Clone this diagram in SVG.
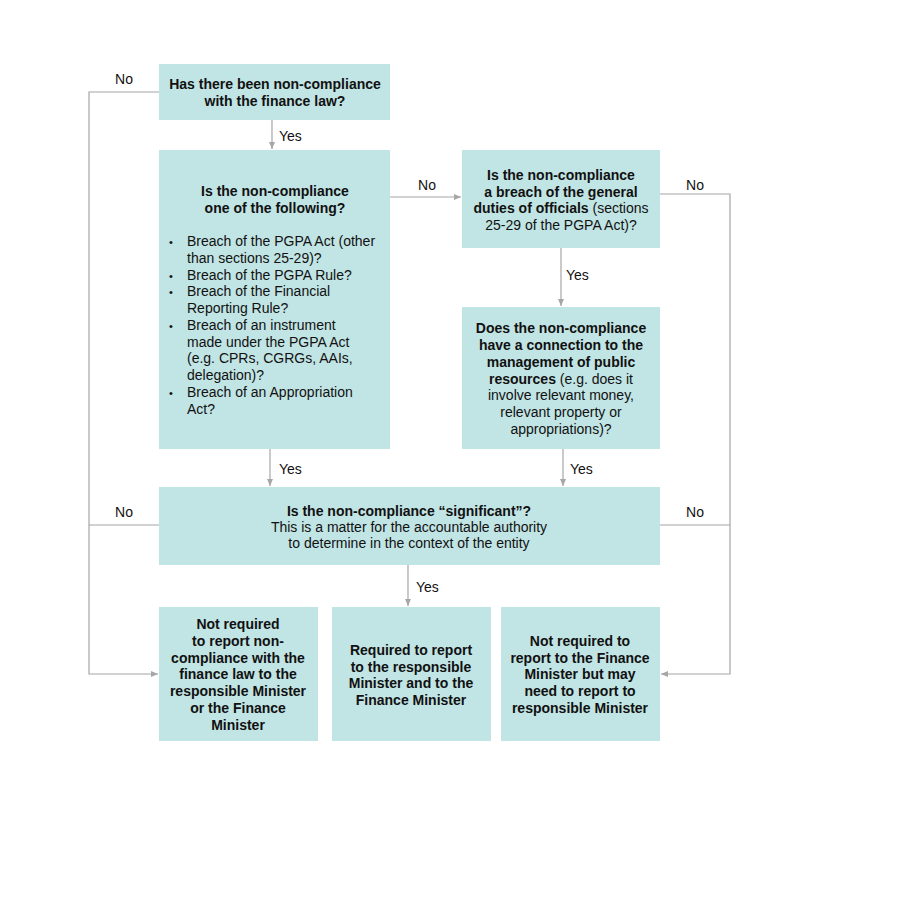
<svg xmlns="http://www.w3.org/2000/svg" width="900" height="899" viewBox="0 0 900 899">
<style>
.box{fill:#c1e4e4}
text{font-family:"Liberation Sans",Arial,sans-serif;font-size:14px;fill:#111}
.c{text-anchor:middle}
.b{font-weight:bold}
.ln{fill:none;stroke:#a6a6a6;stroke-width:1.2}
.bu{font-size:11px}
</style>
<defs>
<marker id="ar" markerWidth="8" markerHeight="8" refX="7" refY="4" orient="auto" markerUnits="userSpaceOnUse">
<path d="M0,1 L7,4 L0,7 Z" fill="#a6a6a6"/>
</marker>
</defs>
<rect width="900" height="899" fill="#fff"/>
<g id="connectors">
<polyline class="ln" points="159,92 89,92 89,674 158,674" marker-end="url(#ar)"/>
<line class="ln" x1="159" y1="525" x2="89" y2="525"/>
<line class="ln" x1="272" y1="120" x2="272" y2="149" marker-end="url(#ar)"/>
<line class="ln" x1="390" y1="197" x2="461" y2="197" marker-end="url(#ar)"/>
<polyline class="ln" points="660,194 730,194 730,674 661,674" marker-end="url(#ar)"/>
<line class="ln" x1="660" y1="525" x2="730" y2="525"/>
<line class="ln" x1="561" y1="248" x2="561" y2="306" marker-end="url(#ar)"/>
<line class="ln" x1="270" y1="449" x2="270" y2="486" marker-end="url(#ar)"/>
<line class="ln" x1="563" y1="449" x2="563" y2="486" marker-end="url(#ar)"/>
<line class="ln" x1="408" y1="565" x2="408" y2="606" marker-end="url(#ar)"/>
<text x="124" y="84" class="c">No</text>
<text x="124" y="517" class="c">No</text>
<text x="279" y="141">Yes</text>
<text x="427" y="190" class="c">No</text>
<text x="695" y="190" class="c">No</text>
<text x="695" y="517" class="c">No</text>
<text x="566" y="280">Yes</text>
<text x="279" y="474">Yes</text>
<text x="570" y="474">Yes</text>
<text x="416" y="592">Yes</text>
</g>
<g id="n1">
<rect class="box" x="159" y="64" width="231" height="56"/>
<text class="c b" x="275" y="89">Has there been non-compliance</text>
<text class="c b" x="275" y="106">with the finance law?</text>
</g>
<g id="n2">
<rect class="box" x="159" y="150" width="231" height="299"/>
<text class="c b" x="275" y="196">Is the non-compliance</text>
<text class="c b" x="275" y="213">one of the following?</text>
<text class="bu" x="169" y="246">•</text><text x="187" y="246">Breach of the PGPA Act (other</text>
<text x="187" y="263">than sections 25-29)?</text>
<text class="bu" x="169" y="280">•</text><text x="187" y="280">Breach of the PGPA Rule?</text>
<text class="bu" x="169" y="296">•</text><text x="187" y="296">Breach of the Financial</text>
<text x="187" y="313">Reporting Rule?</text>
<text class="bu" x="169" y="330">•</text><text x="187" y="330">Breach of an instrument</text>
<text x="187" y="347">made under the PGPA Act</text>
<text x="187" y="363">(e.g. CPRs, CGRGs, AAIs,</text>
<text x="187" y="380">delegation)?</text>
<text class="bu" x="169" y="397">•</text><text x="187" y="397">Breach of an Appropriation</text>
<text x="187" y="414">Act?</text>
</g>
<g id="n3">
<rect class="box" x="462" y="150" width="198" height="98"/>
<text class="c b" x="561" y="180">Is the non-compliance</text>
<text class="c b" x="561" y="197">a breach of the general</text>
<text class="c" x="561" y="213"><tspan class="b">duties of officials</tspan> (sections</text>
<text class="c" x="561" y="230">25-29 of the PGPA Act)?</text>
</g>
<g id="n4">
<rect class="box" x="462" y="307" width="198" height="142"/>
<text class="c b" x="561" y="333">Does the non-compliance</text>
<text class="c b" x="561" y="350">have a connection to the</text>
<text class="c b" x="561" y="367">management of public</text>
<text class="c" x="561" y="384"><tspan class="b">resources</tspan> (e.g. does it</text>
<text class="c" x="561" y="400">involve relevant money,</text>
<text class="c" x="561" y="417">relevant property or</text>
<text class="c" x="561" y="434">appropriations)?</text>
</g>
<g id="n5">
<rect class="box" x="159" y="487" width="501" height="78"/>
<text class="c b" x="409" y="516">Is the non-compliance “significant”?</text>
<text class="c" x="409" y="532">This is a matter for the accountable authority</text>
<text class="c" x="409" y="548">to determine in the context of the entity</text>
</g>
<g id="n6">
<rect class="box" x="159" y="607" width="159" height="134"/>
<text class="c b" x="238" y="629">Not required</text>
<text class="c b" x="238" y="646">to report non-</text>
<text class="c b" x="238" y="663">compliance with the</text>
<text class="c b" x="238" y="679">finance law to the</text>
<text class="c b" x="238" y="696">responsible Minister</text>
<text class="c b" x="238" y="713">or the Finance</text>
<text class="c b" x="238" y="730">Minister</text>
</g>
<g id="n7">
<rect class="box" x="332" y="607" width="159" height="134"/>
<text class="c b" x="411" y="655">Required to report</text>
<text class="c b" x="411" y="672">to the responsible</text>
<text class="c b" x="411" y="688">Minister and to the</text>
<text class="c b" x="411" y="705">Finance Minister</text>
</g>
<g id="n8">
<rect class="box" x="501" y="607" width="159" height="134"/>
<text class="c b" x="580" y="646">Not required to</text>
<text class="c b" x="580" y="663">report to the Finance</text>
<text class="c b" x="580" y="679">Minister but may</text>
<text class="c b" x="580" y="696">need to report to</text>
<text class="c b" x="580" y="713">responsible Minister</text>
</g>
</svg>
